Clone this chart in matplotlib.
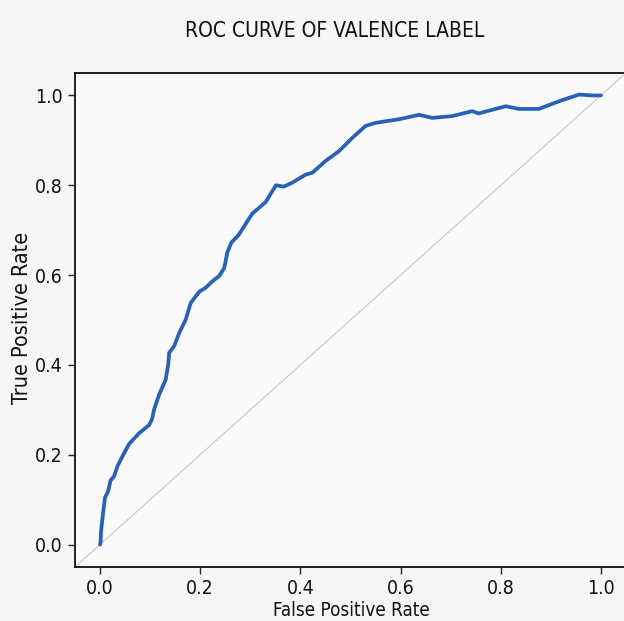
import matplotlib
matplotlib.use("Agg")
import matplotlib.pyplot as plt

# ROC curve points (false positive rate, true positive rate)
fpr = [0.000, 0.001, 0.002, 0.005, 0.010, 0.016, 0.021, 0.028, 0.035, 0.045,
       0.058, 0.078, 0.098, 0.104, 0.108, 0.118, 0.131, 0.136, 0.138, 0.148,
       0.158, 0.171, 0.181, 0.198, 0.211, 0.224, 0.238, 0.248, 0.254, 0.262,
       0.277, 0.304, 0.331, 0.351, 0.367, 0.384, 0.411, 0.424, 0.450, 0.477,
       0.504, 0.530, 0.550, 0.597, 0.637, 0.663, 0.703, 0.743, 0.756, 0.776,
       0.810, 0.836, 0.876, 0.916, 0.956, 0.983, 1.000]
tpr = [0.000, 0.004, 0.030, 0.060, 0.105, 0.118, 0.143, 0.152, 0.175, 0.197,
       0.224, 0.248, 0.266, 0.280, 0.301, 0.334, 0.367, 0.400, 0.427, 0.442,
       0.471, 0.501, 0.538, 0.563, 0.572, 0.586, 0.598, 0.616, 0.650, 0.672,
       0.690, 0.737, 0.763, 0.800, 0.797, 0.806, 0.824, 0.828, 0.854, 0.876,
       0.906, 0.932, 0.939, 0.947, 0.957, 0.950, 0.954, 0.965, 0.960, 0.966,
       0.976, 0.970, 0.970, 0.987, 1.002, 1.000, 1.000]

ticks = [0.0, 0.2, 0.4, 0.6, 0.8, 1.0]
tick_labels = ["0.0", "0.2", "0.4", "0.6", "0.8", "1.0"]

title = "ROC CURVE OF VALENCE LABEL"
xlabel = "False Positive Rate"
ylabel = "True Positive Rate"

W, H = 624, 621
fig = plt.figure(figsize=(W / 100, H / 100), dpi=100, facecolor="#f6f6f6")
ax = fig.add_axes([75 / W, 1 - 567 / H, 551 / W, 494 / H], facecolor="#fafafa")

ax.set_xlim(-0.05, 1.05)
ax.set_ylim(-0.05, 1.05)

# chance diagonal
ax.axline((0, 0), (1, 1), color="#cbbdb6", lw=0.7, zorder=1)
# ROC curve
ax.plot(fpr, tpr, color="#2862b8", lw=2.7, solid_joinstyle="round",
        solid_capstyle="round", zorder=2)

ax.set_xticks(ticks)
ax.set_xticklabels(tick_labels)
ax.set_yticks(ticks)
ax.set_yticklabels(tick_labels)
ax.tick_params(axis="both", length=5, width=1.0, color="#222222",
               labelsize=14, labelcolor="#111111", pad=4)
for lab in ax.get_xticklabels() + ax.get_yticklabels():
    lab.set_fontfamily("DejaVu Sans")
    lab.set_fontstretch("condensed")

for side in ["left", "bottom", "top", "right"]:
    ax.spines[side].set_color("#111111")
    ax.spines[side].set_linewidth(1.3)

ax.set_xlabel(xlabel, fontsize=13.5, family="DejaVu Sans", fontstretch="condensed",
              color="#111111")
ax.xaxis.set_label_coords((351 - 75) / 551, (567 - 601) / 494)
ax.set_ylabel(ylabel, fontsize=15.5, family="DejaVu Sans", fontstretch="condensed",
              color="#111111")
ax.yaxis.set_label_coords((32 - 75) / 551, (567 - 318) / 494)

fig.text(335 / W, 1 - 31 / H, title, ha="center", va="center",
         fontsize=15, family="DejaVu Sans", fontstretch="condensed",
         color="#111111")

fig.savefig("out.png", dpi=100, facecolor=fig.get_facecolor())
